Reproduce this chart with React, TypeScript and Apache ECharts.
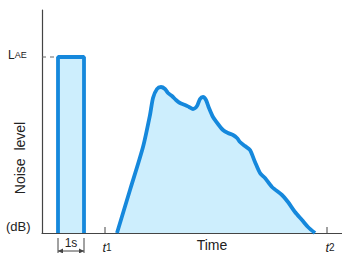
import React, { useEffect, useRef } from "react";
import * as echarts from "echarts";

// Time axis (arbitrary units, 0..300) and noise level (arbitrary units, 0..223)
const curveTime = [75, 88, 101, 108, 111, 115, 119, 123, 126, 130, 134, 138, 143, 147, 151, 155, 158, 161, 164, 167, 171, 176, 181, 186, 191, 195, 198, 203, 208, 213, 218, 223, 230, 240, 246, 253, 260, 266, 273];
const curveLevel = [0, 43, 86, 118, 135, 144, 146, 144, 140, 137, 133, 130, 128, 126, 124, 127, 134, 136, 133, 125, 116, 109, 103, 100, 98, 95, 91, 87, 83, 71, 60, 55, 46, 38, 31, 21, 13, 6, 0];
const laeStart = 16;
const laeEnd = 42; // 1 second
const laeLevel = 176;
const t1 = 63;
const t2 = 285;
const xMax = 300;
const yMax = 223;

const BLUE = "#1588dc";
const FILL = "#cdeefd";
const AXIS = "#444";
const FONT = "Liberation Sans";

export default function App() {
  const ref = useRef<HTMLDivElement>(null);
  useEffect(() => {
    document.body.style.margin = "0";
    const chart = echarts.init(ref.current!, null, { renderer: "svg" });
    const curve = curveTime.map((t, i) => [t, curveLevel[i]]);
    const rect = [
      [laeStart, 0],
      [laeStart, laeLevel],
      [laeEnd, laeLevel],
      [laeEnd, 0],
    ];
    chart.setOption({
      animation: false,
      grid: { left: 42, right: 0, top: 10, bottom: 20 },
      xAxis: {
        type: "value",
        min: 0,
        max: xMax,
        axisLine: { show: true, lineStyle: { color: AXIS, width: 1.2 } },
        axisTick: { show: false },
        axisLabel: { show: false },
        splitLine: { show: false },
      },
      yAxis: {
        type: "value",
        min: 0,
        max: yMax,
        axisLine: { show: true, lineStyle: { color: AXIS, width: 1.2 } },
        axisTick: { show: false },
        axisLabel: { show: false },
        splitLine: { show: false },
      },
      series: [
        {
          type: "line",
          data: rect,
          symbol: "none",
          lineStyle: { color: BLUE, width: 3.8 },
          areaStyle: { color: FILL, opacity: 1 },
          z: 3,
        },
        {
          type: "line",
          data: curve,
          symbol: "none",
          smooth: 0.25,
          lineStyle: { color: BLUE, width: 3.8 },
          areaStyle: { color: FILL, opacity: 1 },
          z: 3,
        },
        {
          type: "line",
          data: [
            [0, laeLevel],
            [laeStart, laeLevel],
          ],
          symbol: "none",
          lineStyle: { color: "#666", width: 1, type: [4, 4] },
          z: 2,
        },
        {
          type: "line",
          data: [
            [t1, 0],
            [t1, 6],
          ],
          symbol: "none",
          lineStyle: { color: AXIS, width: 1 },
        },
        {
          type: "line",
          data: [
            [t2, 0],
            [t2, 6],
          ],
          symbol: "none",
          lineStyle: { color: AXIS, width: 1 },
        },
      ],
    });

    const p = (x: number, y: number) => chart.convertToPixel({ gridIndex: 0 }, [x, y]) as number[];
    const a = p(laeStart, 0);
    const b = p(laeEnd, 0);
    const lae = p(0, laeLevel);
    const pt1 = p(t1, 0);
    const pt2 = p(t2, 0);
    const by = a[1] + 18;
    const txt = { fill: "#222", fontFamily: FONT };

    chart.setOption({
      graphic: [
        {
          type: "text",
          left: 8,
          top: lae[1] - 8,
          style: {
            ...txt,
            text: "{l|L}{s|AE}",
            rich: {
              l: { fontSize: 12, fontFamily: FONT, fill: "#222" },
              s: { fontSize: 9, fontFamily: FONT, fill: "#222" },
            },
          },
        },
        {
          type: "text",
          x: 20,
          y: 158,
          rotation: Math.PI / 2,
          style: { ...txt, text: "Noise  level", fontSize: 14, align: "center", verticalAlign: "middle" },
        },
        {
          type: "text",
          x: 6,
          y: 226,
          style: { ...txt, text: "(dB)", fontSize: 13, verticalAlign: "middle" },
        },
        {
          type: "line",
          shape: { x1: a[0], y1: a[1] + 5, x2: a[0], y2: a[1] + 20 },
          style: { stroke: AXIS, lineWidth: 1 },
        },
        {
          type: "line",
          shape: { x1: b[0], y1: b[1] + 5, x2: b[0], y2: b[1] + 20 },
          style: { stroke: AXIS, lineWidth: 1 },
        },
        {
          type: "line",
          shape: { x1: a[0], y1: by, x2: b[0], y2: by },
          style: { stroke: AXIS, lineWidth: 1 },
        },
        {
          type: "polygon",
          shape: { points: [[a[0], by], [a[0] + 5, by - 2.5], [a[0] + 5, by + 2.5]] },
          style: { fill: AXIS },
        },
        {
          type: "polygon",
          shape: { points: [[b[0], by], [b[0] - 5, by - 2.5], [b[0] - 5, by + 2.5]] },
          style: { fill: AXIS },
        },
        {
          type: "text",
          x: (a[0] + b[0]) / 2,
          y: a[1] + 10,
          style: { ...txt, text: "1s", fontSize: 12, align: "center", verticalAlign: "middle" },
        },
        {
          type: "text",
          x: pt1[0] + 2,
          y: pt1[1] + 14,
          style: {
            text: "{i|t}{n|1}",
            align: "center",
            verticalAlign: "middle",
            rich: {
              i: { fontSize: 13, fontStyle: "italic", fontFamily: FONT, fill: "#222" },
              n: { fontSize: 10, fontFamily: FONT, fill: "#222" },
            },
          },
        },
        {
          type: "text",
          x: pt2[0] + 3,
          y: pt2[1] + 14,
          style: {
            text: "{i|t}{n|2}",
            align: "center",
            verticalAlign: "middle",
            rich: {
              i: { fontSize: 13, fontStyle: "italic", fontFamily: FONT, fill: "#222" },
              n: { fontSize: 10, fontFamily: FONT, fill: "#222" },
            },
          },
        },
        {
          type: "text",
          x: 212,
          y: 252,
          style: { ...txt, text: "Time", fontSize: 14, align: "center", verticalAlign: "bottom" },
        },
      ],
    });
    return () => chart.dispose();
  }, []);
  return <div ref={ref} style={{ width: 342, height: 253 }} />;
}
